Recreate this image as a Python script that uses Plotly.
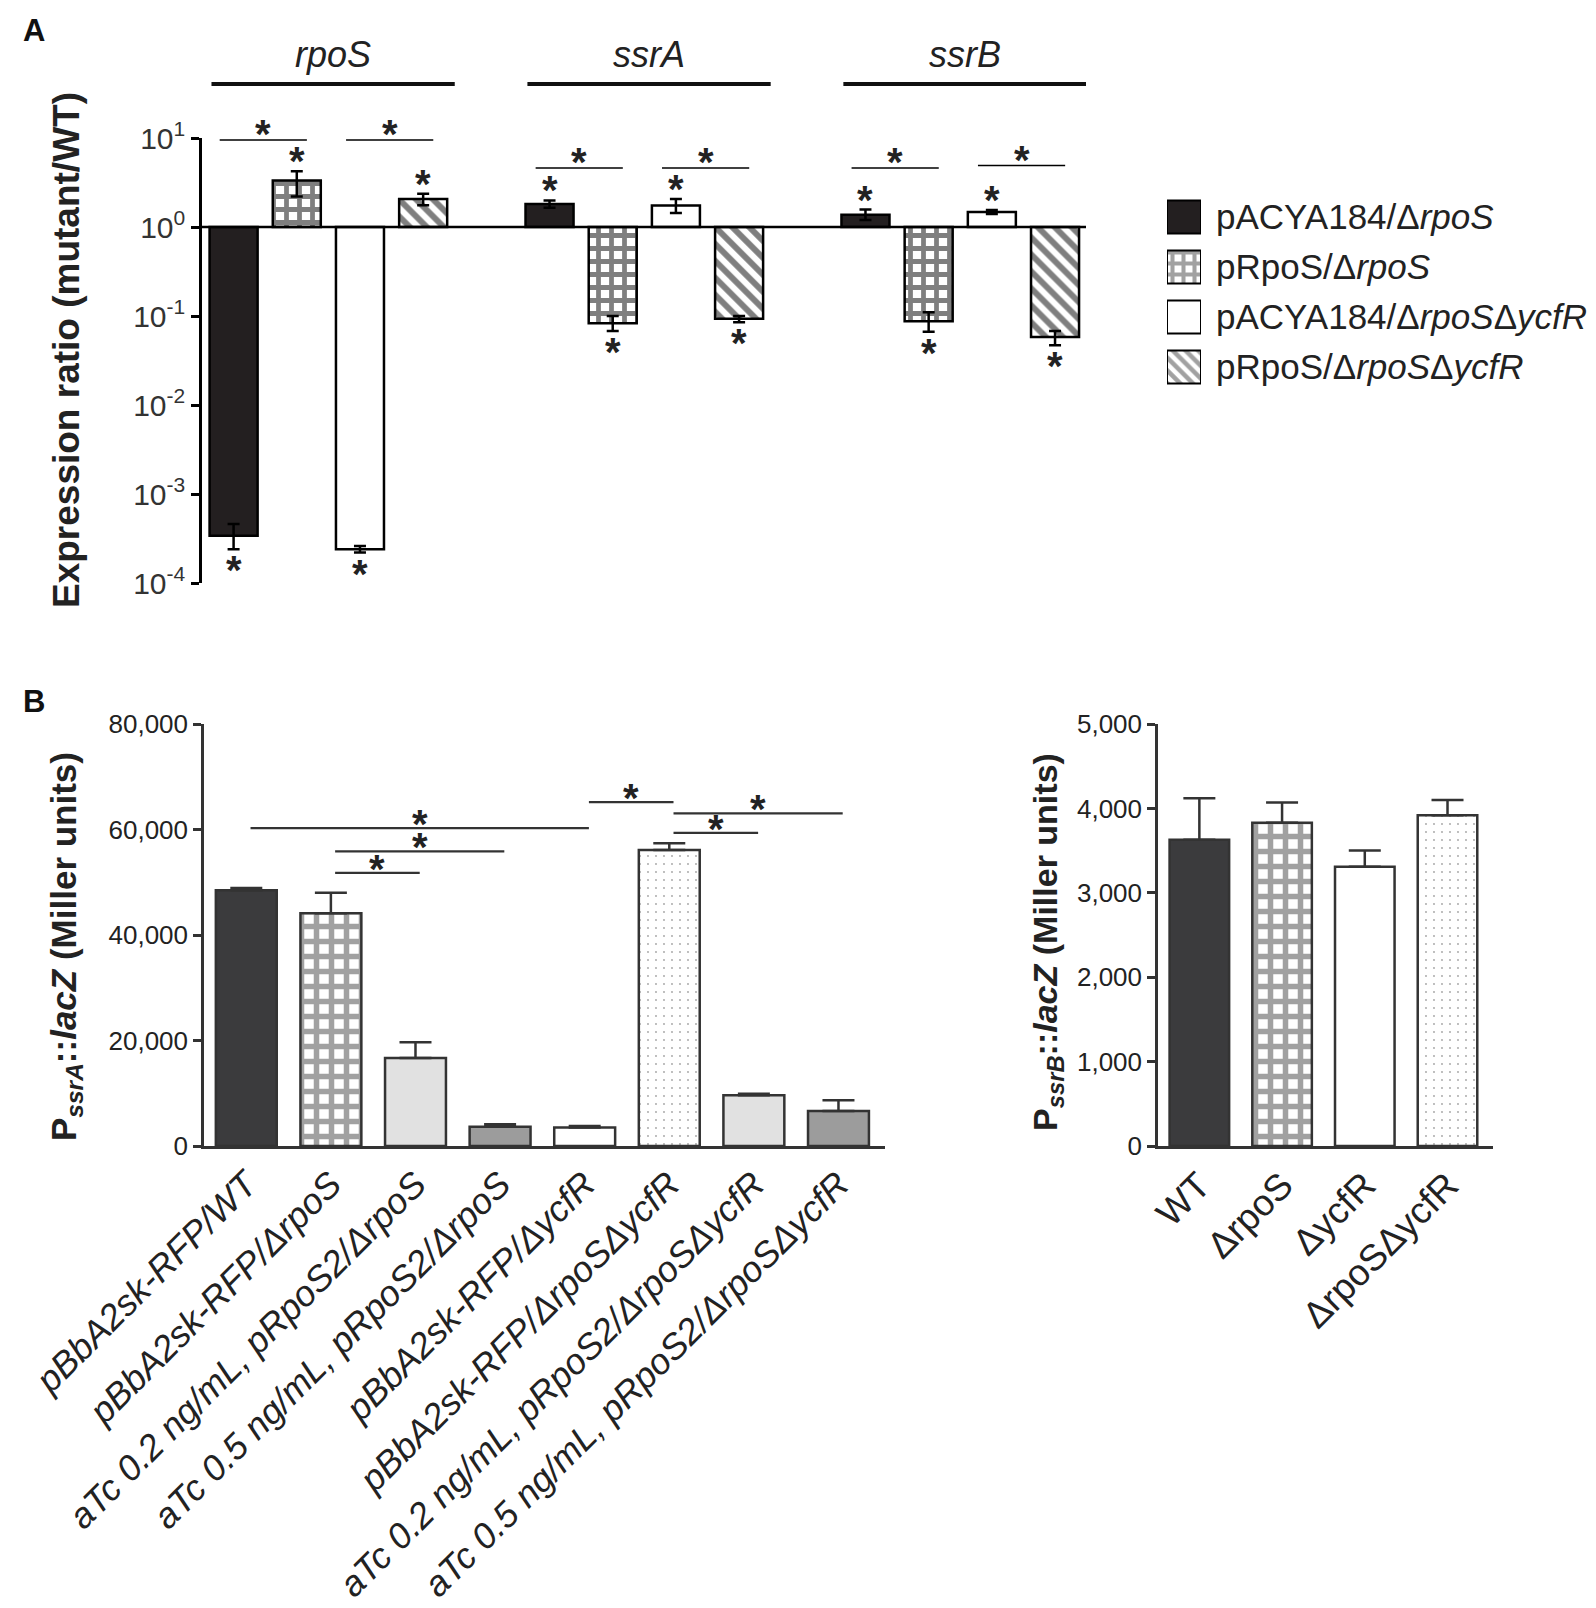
import math
import plotly.graph_objects as go

# ---------------- data ----------------
# Panel A: expression ratio (mutant/WT), three genes x four strains
genes = ["rpoS", "ssrA", "ssrB"]
legend_labels = ["pACYA184/Δ<i>rpoS</i>", "pRpoS/Δ<i>rpoS</i>",
                 "pACYA184/Δ<i>rpoS</i>Δ<i>ycfR</i>", "pRpoS/Δ<i>rpoS</i>Δ<i>ycfR</i>"]
ratio_pacya_rpos = [3.4e-4, 1.81, 1.37]
ratio_prpos_rpos = [3.34, 0.083, 0.0873]
ratio_pacya_rpos_ycfr = [2.4e-4, 1.74, 1.47]
ratio_prpos_rpos_ycfr = [2.06, 0.0934, 0.058]
# error bar ends (low, high)
lo_pacya_rpos = [2.4e-4, 1.65, 1.20]
hi_pacya_rpos = [4.6e-4, 1.99, 1.57]
lo_prpos_rpos = [2.2, 0.068, 0.0665]
hi_prpos_rpos = [4.24, 0.100, 0.110]
lo_pacya_rpos_ycfr = [2.2e-4, 1.44, 1.40]
hi_pacya_rpos_ycfr = [2.6e-4, 2.06, 1.55]
lo_prpos_rpos_ycfr = [1.75, 0.085, 0.047]
hi_prpos_rpos_ycfr = [2.36, 0.100, 0.068]
# significance brackets between pairs of bars (first bar slot, height)
sig_a_first = [0, 2, 5, 7, 10, 12]
sig_a_height = [9.5, 9.5, 4.6, 4.6, 4.6, 4.9]

# Panel B left: PssrA::lacZ
conds_b = ["pBbA2sk-RFP/WT", "pBbA2sk-RFP/ΔrpoS", "aTc 0.2 ng/mL, pRpoS2/ΔrpoS",
           "aTc 0.5 ng/mL, pRpoS2/ΔrpoS", "pBbA2sk-RFP/ΔycfR", "pBbA2sk-RFP/ΔrpoSΔycfR",
           "aTc 0.2 ng/mL, pRpoS2/ΔrpoSΔycfR", "aTc 0.5 ng/mL, pRpoS2/ΔrpoSΔycfR"]
ssra_miller = [48500, 44100, 16700, 3650, 3500, 56100, 9600, 6650]
ssra_sem = [400, 3900, 2950, 450, 300, 1300, 300, 2000]
sig_b_from = [0, 1, 1, 4, 5, 5]
sig_b_to = [4, 3, 2, 5, 7, 6]
sig_b_height = [60250, 55860, 51790, 65200, 63070, 59370]

# Panel B right: PssrB::lacZ
strains_c = ["WT", "ΔrpoS", "ΔycfR", "ΔrpoSΔycfR"]
ssrb_miller = [3630, 3830, 3310, 3920]
ssrb_sem = [490, 240, 190, 180]

# ---------------- layout helpers ----------------
W, H = 1596, 1608
FONT = "Arial, Liberation Sans, sans-serif"


def fx(x):
    return x / W


def fy(y):
    return 1 - y / H


ratios = [ratio_pacya_rpos, ratio_prpos_rpos, ratio_pacya_rpos_ycfr, ratio_prpos_rpos_ycfr]
los = [lo_pacya_rpos, lo_prpos_rpos, lo_pacya_rpos_ycfr, lo_prpos_rpos_ycfr]
his = [hi_pacya_rpos, hi_prpos_rpos, hi_pacya_rpos_ycfr, hi_prpos_rpos_ycfr]
a_fill = ["#231f20", "white", "white", "white"]
a_shape = ["", "+", "", "\\"]
a_size = [10, 13, 10, 12]
a_solid = [0.3, 0.6, 0.3, 0.5]
STAR = dict(size=40, color="#222")

fig = go.Figure()


def star(x, y, xref, yref, shift):
    fig.add_annotation(x=x, y=y, xref=xref, yref=yref, text="<b>*</b>", showarrow=False,
                       xanchor="center", yanchor="middle", yshift=shift, font=STAR)


# ---- Panel A bars ----
for s in range(4):
    xs = [g * 5 + s for g in range(3)]
    vals = ratios[s]
    fig.add_trace(go.Bar(
        x=xs, y=[v - 1 for v in vals], base=1, width=0.76,
        marker=dict(color=a_fill[s], line=dict(color="black", width=2.5),
                    pattern=dict(shape=a_shape[s], fgcolor="black", fillmode="overlay",
                                 size=a_size[s], solidity=a_solid[s])),
        xaxis="x", yaxis="y", showlegend=False))
    fig.add_trace(go.Scatter(
        x=xs, y=vals, mode="markers", marker=dict(size=1, opacity=0),
        error_y=dict(type="data", symmetric=False,
                     array=[h - v for h, v in zip(his[s], vals)],
                     arrayminus=[v - l for l, v in zip(los[s], vals)],
                     color="black", thickness=2.5, width=6),
        xaxis="x", yaxis="y", showlegend=False))
    # star beyond each error bar
    for g in range(3):
        if vals[g] >= 1:
            star(xs[g], math.log10(his[s][g]), "x", "y", 10)
        else:
            star(xs[g], math.log10(los[s][g]), "x", "y", -21)

# significance brackets in panel A
bx, by = [], []
for f, h in zip(sig_a_first, sig_a_height):
    bx += [f - 0.22, f + 1.16, None]
    by += [h, h, None]
    star(f + 0.47, math.log10(h), "x", "y", 6)
fig.add_trace(go.Scatter(x=bx, y=by, mode="lines", line=dict(color="black", width=1.6),
                         xaxis="x", yaxis="y", showlegend=False, cliponaxis=False))

# ---- Panel A legend (swatches + labels) ----
fig.add_trace(go.Bar(
    y=legend_labels, x=[1] * 4, orientation="h", width=0.66,
    marker=dict(color=a_fill, line=dict(color="black", width=2),
                pattern=dict(shape=a_shape, fgcolor="black", fillmode="overlay",
                             size=[10, 11, 10, 9], solidity=a_solid)),
    xaxis="x4", yaxis="y4", showlegend=False))

# ---- Panel B left ----
b_fill = ["#3b3b3d", "white", "#e1e1e1", "#9c9c9c", "white", "white", "#e1e1e1", "#9c9c9c"]
b_shape = ["", "+", "", "", "", ".", "", ""]
b_size = [10, 15, 10, 10, 10, 8, 10, 10]
b_solid = [0.3, 0.6, 0.3, 0.3, 0.3, 0.04, 0.3, 0.3]
fig.add_trace(go.Bar(
    x=list(range(len(conds_b))), y=ssra_miller, width=0.72,
    marker=dict(color=b_fill, line=dict(color="#333", width=2.5),
                pattern=dict(shape=b_shape, fgcolor="black", fillmode="overlay",
                             size=b_size, solidity=b_solid)),
    error_y=dict(type="data", symmetric=False, array=ssra_sem,
                 arrayminus=[0] * len(ssra_sem), color="#333", thickness=2.5, width=16),
    xaxis="x2", yaxis="y2", showlegend=False))

bx, by = [], []
for f, t, h in zip(sig_b_from, sig_b_to, sig_b_height):
    bx += [f + 0.05, t + 0.05, None]
    by += [h, h, None]
    star((f + t) / 2 + 0.05, h, "x2", "y2", 4)
fig.add_trace(go.Scatter(x=bx, y=by, mode="lines", line=dict(color="#333", width=2.2),
                         xaxis="x2", yaxis="y2", showlegend=False))

# ---- Panel B right ----
c_fill = ["#3b3b3d", "white", "white", "white"]
c_shape = ["", "+", "", "."]
c_size = [10, 15, 10, 8]
c_solid = [0.3, 0.6, 0.3, 0.04]
fig.add_trace(go.Bar(
    x=list(range(len(strains_c))), y=ssrb_miller, width=0.72,
    marker=dict(color=c_fill, line=dict(color="#333", width=2.5),
                pattern=dict(shape=c_shape, fgcolor="black", fillmode="overlay",
                             size=c_size, solidity=c_solid)),
    error_y=dict(type="data", symmetric=False, array=ssrb_sem,
                 arrayminus=[0] * len(ssrb_sem), color="#333", thickness=2.5, width=16),
    xaxis="x3", yaxis="y3", showlegend=False))

# ---------------- axes ----------------
axis_common = dict(showgrid=False, zeroline=False, showline=True, linewidth=2.5,
                   ticks="outside", ticklen=8, tickwidth=2.5, automargin=False)

fig.update_layout(
    width=W, height=H, margin=dict(l=0, r=0, t=0, b=0, autoexpand=False),
    paper_bgcolor="white", plot_bgcolor="white",
    font=dict(family=FONT, color="#222"),
    barmode="overlay", showlegend=False,
    # panel A
    xaxis=dict(domain=[fx(194), fx(1078)], range=[-0.5, 13.49], visible=False,
               anchor="y", automargin=False),
    yaxis=dict(domain=[fy(575), fy(130)], type="log", range=[-4, 1], anchor="x",
               tickvals=[10, 1, 0.1, 0.01, 0.001, 0.0001],
               ticktext=["10<sup>1</sup>", "10<sup>0</sup>", "10<sup>-1</sup>",
                         "10<sup>-2</sup>", "10<sup>-3</sup>", "10<sup>-4</sup>"],
               tickfont=dict(size=30, color="#333"), linecolor="black", tickcolor="black",
               **axis_common),
    # panel B left
    xaxis2=dict(domain=[fx(196), fx(877)], range=[-0.5, 7.55], anchor="y2",
                tickvals=list(range(len(conds_b))), ticktext=conds_b, tickangle=-45,
                tickfont=dict(size=36, color="#222", style="italic"), ticks="",
                showgrid=False, zeroline=False, showline=True, linewidth=2.5,
                linecolor="#333", automargin=False),
    yaxis2=dict(domain=[fy(1138), fy(716)], range=[0, 80000], anchor="x2",
                tickvals=[0, 20000, 40000, 60000, 80000], tickformat=",d",
                tickfont=dict(size=26, color="#222"), linecolor="#333", tickcolor="#333",
                **axis_common),
    # panel B right
    xaxis3=dict(domain=[fx(1150), fx(1485)], range=[-0.5, 3.55], anchor="y3",
                tickvals=list(range(len(strains_c))), ticktext=strains_c, tickangle=-45,
                tickfont=dict(size=37, color="#222"), ticks="",
                showgrid=False, zeroline=False, showline=True, linewidth=2.5,
                linecolor="#333", automargin=False),
    yaxis3=dict(domain=[fy(1138), fy(716)], range=[0, 5000], anchor="x3",
                tickvals=[0, 1000, 2000, 3000, 4000, 5000], tickformat=",d",
                tickfont=dict(size=26, color="#222"), linecolor="#333", tickcolor="#333",
                **axis_common),
    # legend for panel A
    xaxis4=dict(domain=[fx(1159), fx(1193)], range=[0, 1], visible=False, anchor="y4",
                automargin=False),
    yaxis4=dict(domain=[fy(384), fy(184)], type="category", autorange="reversed",
                side="right", anchor="x4", showline=False, showgrid=False, ticks="",
                ticklabelstandoff=14, tickfont=dict(size=35, color="#222"),
                automargin=False),
)

# line at ratio = 1 and gene header bars
fig.add_shape(type="line", xref="x domain", yref="y", x0=0, x1=1, y0=1, y1=1,
              line=dict(color="black", width=2.5))
for g, name in enumerate(genes):
    fig.add_shape(type="line", xref="x", yref="paper", x0=g * 5 - 0.35, x1=g * 5 + 3.5,
                  y0=fy(76), y1=fy(76), line=dict(color="#111", width=4))
    fig.add_annotation(x=g * 5 + 1.57, y=fy(47), xref="x", yref="paper", text=f"<i>{name}</i>",
                       showarrow=False, xanchor="center", yanchor="middle",
                       font=dict(size=36, color="#222"))

# panel letters and axis titles
for letter, (lx, ly) in zip(["A", "B"], [(26, 22), (26, 693)]):
    fig.add_annotation(x=fx(lx), y=fy(ly), xref="paper", yref="paper", text=f"<b>{letter}</b>",
                       showarrow=False, xanchor="center", yanchor="middle",
                       font=dict(size=31, color="#111"))
titles = [("<b>Expression ratio (mutant/WT)</b>", 58, 342, 37),
          ("<b>P<sub><i>ssrA</i></sub>::<i>lacZ</i> (Miller units)</b>", 58, 939, 35),
          ("<b>P<sub><i>ssrB</i></sub>::<i>lacZ</i> (Miller units)</b>", 1039, 934, 34)]
for text, tx, ty, size in titles:
    fig.add_annotation(x=fx(tx), y=fy(ty), xref="paper", yref="paper", textangle=-90,
                       text=text, showarrow=False, xanchor="center", yanchor="middle",
                       font=dict(size=size, color="#222"))

fig.write_html("out.html")
